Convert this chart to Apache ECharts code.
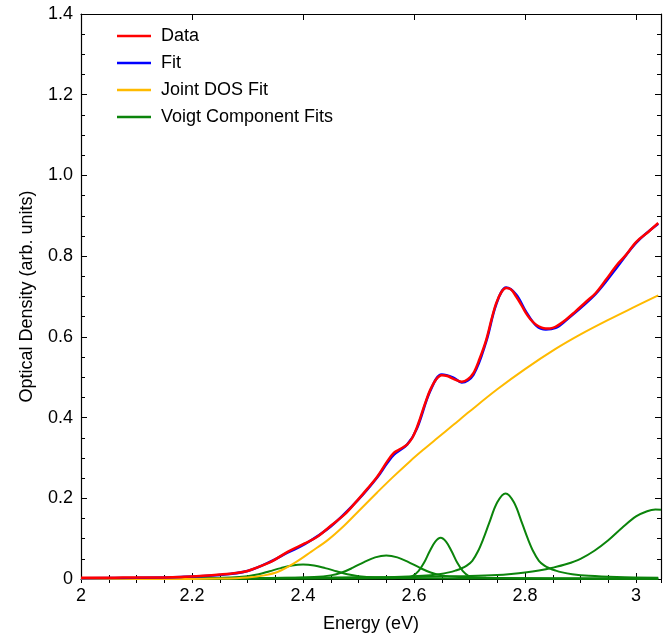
<!DOCTYPE html>
<html lang="en">
  <head>
    <meta charset="UTF-8" />
    <title>Optical Density</title>
    <style type="text/css">
      html, body { margin: 0; padding: 0; background: #fff; }
      #main { width: 664px; height: 644px; }
    </style>
  </head>
  <body>
    <div id="main"></div>
    <script src="https://cdn.jsdelivr.net/npm/echarts@6/dist/echarts.min.js"></script>
    <script type="text/javascript">
      // values
      var legendNames = ["Data", "Fit", "Joint DOS Fit", "Voigt Component Fits"];

      var dataX = [2.00, 2.05, 2.10, 2.15, 2.18, 2.22, 2.25, 2.28, 2.30, 2.32, 2.343, 2.373, 2.403, 2.425, 2.45, 2.475, 2.498, 2.515, 2.534, 2.552, 2.564, 2.575, 2.5875, 2.597, 2.605, 2.611, 2.62, 2.629, 2.64, 2.65, 2.66, 2.671, 2.686, 2.697, 2.707, 2.718, 2.73, 2.74, 2.748, 2.757, 2.766, 2.775, 2.784, 2.793, 2.802, 2.81, 2.82, 2.83, 2.8375, 2.845, 2.855, 2.873, 2.89, 2.91, 2.927, 2.945, 2.9655, 2.98, 3.001, 3.022, 3.04];
      var dataY = [0.003, 0.003, 0.004, 0.004, 0.005, 0.008, 0.011, 0.015, 0.020, 0.030, 0.043, 0.068, 0.088, 0.104, 0.132, 0.160, 0.195, 0.222, 0.254, 0.292, 0.313, 0.322, 0.333, 0.350, 0.375, 0.398, 0.435, 0.468, 0.495, 0.505, 0.503, 0.496, 0.489, 0.495, 0.510, 0.545, 0.592, 0.645, 0.683, 0.710, 0.721, 0.717, 0.700, 0.680, 0.658, 0.643, 0.630, 0.623, 0.621, 0.621, 0.625, 0.642, 0.662, 0.687, 0.708, 0.740, 0.778, 0.800, 0.836, 0.860, 0.882];

      var fitX = [2.00, 2.10, 2.18, 2.25, 2.30, 2.343, 2.373, 2.403, 2.45, 2.498, 2.534, 2.552, 2.564, 2.5875, 2.605, 2.629, 2.65, 2.671, 2.686, 2.707, 2.73, 2.748, 2.766, 2.784, 2.802, 2.82, 2.8375, 2.855, 2.873, 2.927, 2.9655, 3.001, 3.04];
      var fitY = [0.002, 0.003, 0.005, 0.010, 0.020, 0.044, 0.066, 0.086, 0.130, 0.194, 0.252, 0.288, 0.308, 0.333, 0.372, 0.465, 0.507, 0.499, 0.487, 0.506, 0.588, 0.680, 0.722, 0.705, 0.662, 0.628, 0.618, 0.622, 0.640, 0.706, 0.772, 0.834, 0.880];

      var dosX = [2.00, 2.20, 2.25, 2.30, 2.33, 2.355, 2.385, 2.415, 2.445, 2.474, 2.50, 2.534, 2.56, 2.593, 2.62, 2.641, 2.671, 2.70, 2.75, 2.80, 2.855, 2.90, 2.95, 3.00, 3.04];
      var dosY = [0.0, 0.0, 0.001, 0.004, 0.009, 0.018, 0.040, 0.068, 0.097, 0.132, 0.168, 0.215, 0.250, 0.292, 0.324, 0.348, 0.382, 0.415, 0.470, 0.520, 0.570, 0.606, 0.642, 0.676, 0.703];

      var g1X = [2.00, 2.20, 2.27, 2.30, 2.32, 2.34, 2.36, 2.38, 2.40, 2.42, 2.44, 2.46, 2.48, 2.50, 2.53, 2.60, 2.80, 3.04];
      var g1Y = [0.001, 0.002, 0.004, 0.007, 0.0116, 0.0193, 0.027, 0.0335, 0.036, 0.0335, 0.027, 0.0193, 0.0116, 0.007, 0.004, 0.002, 0.001, 0.0005];

      var g2X = [2.00, 2.25, 2.37, 2.42, 2.45, 2.47, 2.49, 2.51, 2.53, 2.55, 2.57, 2.59, 2.61, 2.63, 2.65, 2.68, 2.73, 2.85, 3.04];
      var g2Y = [0.0005, 0.0015, 0.003, 0.005, 0.009, 0.016, 0.028, 0.042, 0.0535, 0.058, 0.0535, 0.042, 0.028, 0.016, 0.009, 0.005, 0.003, 0.0015, 0.001];

      var g3X = [2.00, 2.40, 2.55, 2.588, 2.598, 2.608, 2.618, 2.628, 2.638, 2.648, 2.658, 2.668, 2.678, 2.688, 2.698, 2.708, 2.75, 2.90, 3.04];
      var g3Y = [0.0005, 0.001, 0.002, 0.004, 0.008, 0.0196, 0.040, 0.068, 0.092, 0.102, 0.092, 0.068, 0.040, 0.0196, 0.008, 0.004, 0.002, 0.001, 0.0005];

      var g4X = [2.00, 2.40, 2.465, 2.565, 2.615, 2.645, 2.665, 2.675, 2.685, 2.695, 2.705, 2.715, 2.725, 2.735, 2.75, 2.765, 2.78, 2.795, 2.805, 2.815, 2.825, 2.835, 2.845, 2.855, 2.865, 2.885, 2.915, 2.965, 3.04];
      var g4Y = [0.001, 0.002, 0.003, 0.005, 0.008, 0.012, 0.017, 0.021, 0.026, 0.033, 0.045, 0.068, 0.100, 0.137, 0.190, 0.212, 0.190, 0.137, 0.100, 0.068, 0.045, 0.033, 0.026, 0.021, 0.017, 0.012, 0.008, 0.005, 0.003];

      var g5X = [2.00, 2.30, 2.50, 2.60, 2.65, 2.70, 2.75, 2.775, 2.80, 2.825, 2.85, 2.875, 2.90, 2.925, 2.95, 2.975, 3.00, 3.02, 3.035, 3.045];
      var g5Y = [0.001, 0.002, 0.004, 0.005, 0.006, 0.0075, 0.010, 0.0125, 0.016, 0.021, 0.028, 0.037, 0.050, 0.070, 0.096, 0.127, 0.155, 0.168, 0.172, 0.1715];

      function pairs(xs, ys) {
        return xs.map(function (x, i) { return [x, ys[i]]; });
      }

      var chartDom = document.getElementById("main");
      var myChart = echarts.init(chartDom, null, { renderer: "canvas" });

      var font = "Liberation Sans, Arial, sans-serif";
      var axisLine = { show: true, onZero: false, lineStyle: { color: "#000", width: 1.2 } };
      var xMin = 2, xMax = 3.045;

      function xAxisPart(pos, major, labels) {
        return {
          type: "value", position: pos, min: xMin, max: xMax,
          interval: major ? 0.2 : 0.05,
          axisLine: major ? axisLine : { show: false },
          axisTick: { show: true, inside: true, length: major ? 6 : 4, lineStyle: { color: "#000", width: 1 } },
          axisLabel: {
            show: labels, color: "#000", fontFamily: font, fontSize: 18, margin: 8,
            formatter: function (v) {
              var k = Math.round((v - 2) / 0.2);
              if (Math.abs(v - 2 - k * 0.2) > 1e-6) return "";
              return String(+v.toFixed(1));
            }
          },
          splitLine: { show: false },
          name: labels ? "Energy (eV)" : "",
          nameLocation: "middle", nameGap: 36,
          nameTextStyle: { color: "#000", fontFamily: font, fontSize: 18 }
        };
      }

      function yAxisPart(pos, labels) {
        return {
          type: "value", position: pos, min: 0, max: 1.4, interval: 0.2,
          axisLine: axisLine,
          axisTick: { show: true, inside: true, length: 6, lineStyle: { color: "#000", width: 1 } },
          minorTick: { show: true, splitNumber: 4, length: 4, lineStyle: { color: "#000", width: 1 } },
          axisLabel: {
            show: labels, color: "#000", fontFamily: font, fontSize: 18, margin: 8,
            formatter: function (v) { return v === 0 ? "0" : v.toFixed(1); }
          },
          splitLine: { show: false },
          minorSplitLine: { show: false },
          name: labels ? "Optical Density (arb. units)" : "",
          nameLocation: "middle", nameGap: 45,
          nameTextStyle: { color: "#000", fontFamily: font, fontSize: 18 }
        };
      }

      function lineSeries(name, xs, ys, color, width, z) {
        return {
          type: "line", name: name, data: pairs(xs, ys),
          xAxisIndex: 0, yAxisIndex: 0,
          symbol: "none", smooth: 0.35,
          lineStyle: { color: color, width: width },
          itemStyle: { color: color },
          z: z, animation: false
        };
      }

      var green = "#0b840b";
      var option = {
        animation: false,
        grid: { left: 81, top: 14, width: 585, height: 565, containLabel: false },
        legend: {
          data: legendNames, orient: "vertical", left: 112, top: 22,
          icon: "rect", itemWidth: 34, itemHeight: 2.5, itemGap: 9,
          textStyle: { color: "#000", fontFamily: font, fontSize: 18, lineHeight: 18, padding: [0, 0, 0, 5] }
        },
        xAxis: [
          xAxisPart("bottom", true, true),
          xAxisPart("bottom", false, false),
          xAxisPart("top", true, false),
          xAxisPart("top", false, false)
        ],
        yAxis: [
          yAxisPart("left", true),
          yAxisPart("right", false)
        ],
        series: [
          lineSeries("Voigt Component Fits", g1X, g1Y, green, 2, 2),
          lineSeries("Voigt Component Fits", g2X, g2Y, green, 2, 2),
          lineSeries("Voigt Component Fits", g3X, g3Y, green, 2, 2),
          lineSeries("Voigt Component Fits", g4X, g4Y, green, 2, 2),
          lineSeries("Voigt Component Fits", g5X, g5Y, green, 2, 2),
          lineSeries("Joint DOS Fit", dosX, dosY, "#ffba00", 2, 3),
          lineSeries("Fit", fitX, fitY, "#0000ff", 2.5, 4),
          lineSeries("Data", dataX, dataY, "#ff0000", 2.5, 5)
        ]
      };

      myChart.setOption(option);
    </script>
  </body>
</html>
